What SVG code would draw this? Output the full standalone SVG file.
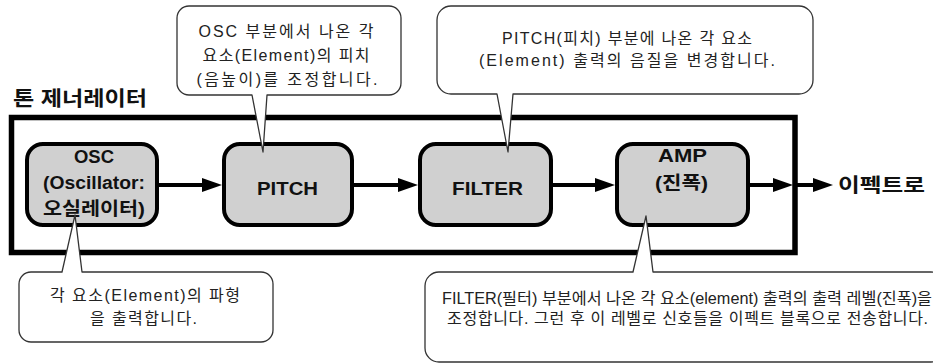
<svg xmlns="http://www.w3.org/2000/svg" width="933" height="363" viewBox="0 0 933 363">
  <style>
    .frame { fill: none; stroke: #000; stroke-width: 5.5; }
    .block rect { fill: #d0d0d0; stroke: #000; stroke-width: 4; }
    .label { font-family: "Liberation Sans", "Noto Sans CJK KR", sans-serif; font-weight: bold; fill: #111; text-anchor: middle; }
    .title { font-family: "Liberation Sans", "Noto Sans CJK KR", sans-serif; font-weight: bold; fill: #111; }
    .wire { stroke: #000; stroke-width: 4; fill: none; marker-end: url(#head); }
    .note path { fill: #fff; stroke: #333; stroke-width: 1.3; stroke-linejoin: round; }
    .note text { font-family: "Liberation Sans", "Noto Sans CJK KR", sans-serif; font-size: 16px; fill: #222; text-anchor: middle; }
  </style>
  <defs>
    <marker id="head" markerUnits="userSpaceOnUse" markerWidth="20" markerHeight="14" refX="10" refY="7" orient="auto">
      <path d="M0,0 L20,7 L0,14 Z" fill="#000"/>
    </marker>
  </defs>

  <rect width="933" height="363" fill="#fff"/>

  <!-- tone generator frame -->
  <text class="title" x="13" y="106" font-size="20" textLength="134" lengthAdjust="spacingAndGlyphs">톤 제너레이터</text>
  <rect class="frame" x="11.5" y="117.5" width="783.5" height="135"/>

  <!-- blocks -->
  <g id="osc" class="block">
    <rect x="27" y="144" width="130" height="81" rx="16"/>
    <text class="label" x="94" y="163" font-size="18" textLength="40" lengthAdjust="spacingAndGlyphs">OSC</text>
    <text class="label" x="94" y="189" font-size="18" textLength="102" lengthAdjust="spacingAndGlyphs">(Oscillator:</text>
    <text class="label" x="94" y="215" font-size="18" textLength="102" lengthAdjust="spacingAndGlyphs">오실레이터)</text>
  </g>
  <g id="pitch" class="block">
    <rect x="224" y="144" width="128" height="81" rx="16"/>
    <text class="label" x="287.5" y="195" font-size="18" textLength="61" lengthAdjust="spacingAndGlyphs">PITCH</text>
  </g>
  <g id="filter" class="block">
    <rect x="420" y="144" width="131" height="81" rx="16"/>
    <text class="label" x="487.5" y="195" font-size="18" textLength="71" lengthAdjust="spacingAndGlyphs">FILTER</text>
  </g>
  <g id="amp" class="block">
    <rect x="617" y="144" width="131" height="81" rx="16"/>
    <text class="label" x="682.5" y="162" font-size="18" textLength="49" lengthAdjust="spacingAndGlyphs">AMP</text>
    <text class="label" x="681.5" y="189" font-size="18" textLength="53" lengthAdjust="spacingAndGlyphs">(진폭)</text>
  </g>
  <g id="out">
    <text class="title" x="838" y="192" font-size="19" textLength="87" lengthAdjust="spacingAndGlyphs">이펙트로</text>
  </g>

  <!-- signal flow -->
  <g id="connectors">
    <line class="wire" x1="157" y1="185" x2="212" y2="185"/>
    <line class="wire" x1="352" y1="185" x2="408" y2="185"/>
    <line class="wire" x1="551" y1="185" x2="605" y2="185"/>
    <line class="wire" x1="748" y1="185" x2="783" y2="185"/>
    <line class="wire" x1="797" y1="185" x2="823" y2="185"/>
  </g>

  <!-- callouts -->
  <g id="note-pitch" class="note">
    <path d="M189,6 H389 A12 12 0 0 1 401,18 V83 A12 12 0 0 1 389,95 H267 L263,152 L252,95 H189 A12 12 0 0 1 177,83 V18 A12 12 0 0 1 189,6 Z"/>
    <text x="286" y="37" textLength="175" lengthAdjust="spacing">OSC 부분에서 나온 각</text>
    <text x="286" y="61" textLength="167" lengthAdjust="spacing">요소(Element)의 피치</text>
    <text x="287" y="85" textLength="181" lengthAdjust="spacing">(음높이)를 조정합니다.</text>
  </g>
  <g id="note-filter" class="note">
    <path d="M451,6 H799 A14 14 0 0 1 813,20 V80 A14 14 0 0 1 799,94 H513 L508,152 L497,94 H451 A14 14 0 0 1 437,80 V20 A14 14 0 0 1 451,6 Z"/>
    <text x="627" y="44" textLength="250" lengthAdjust="spacing">PITCH(피치) 부분에 나온 각 요소</text>
    <text x="627" y="66" textLength="296" lengthAdjust="spacing">(Element) 출력의 음질을 변경합니다.</text>
  </g>
  <g id="note-osc" class="note">
    <path d="M31,272 H62 L75,215 L82,272 H261 A12 12 0 0 1 273,284 V330 A12 12 0 0 1 261,342 H31 A12 12 0 0 1 19,330 V284 A12 12 0 0 1 31,272 Z"/>
    <text x="145" y="301" textLength="190" lengthAdjust="spacing">각 요소(Element)의 파형</text>
    <text x="143.5" y="324" textLength="107" lengthAdjust="spacing">을 출력합니다.</text>
  </g>
  <g id="note-amp" class="note">
    <path d="M439,272 H633 L646,216 L653,272 H931 A14 14 0 0 1 945,286 V348 A14 14 0 0 1 931,362 H439 A14 14 0 0 1 425,348 V286 A14 14 0 0 1 439,272 Z"/>
    <text x="687" y="304" textLength="490" lengthAdjust="spacingAndGlyphs">FILTER(필터) 부분에서 나온 각 요소(element) 출력의 출력 레벨(진폭)을</text>
    <text x="687.5" y="324" textLength="481" lengthAdjust="spacing">조정합니다. 그런 후 이 레벨로 신호들을 이펙트 블록으로 전송합니다.</text>
  </g>
</svg>
